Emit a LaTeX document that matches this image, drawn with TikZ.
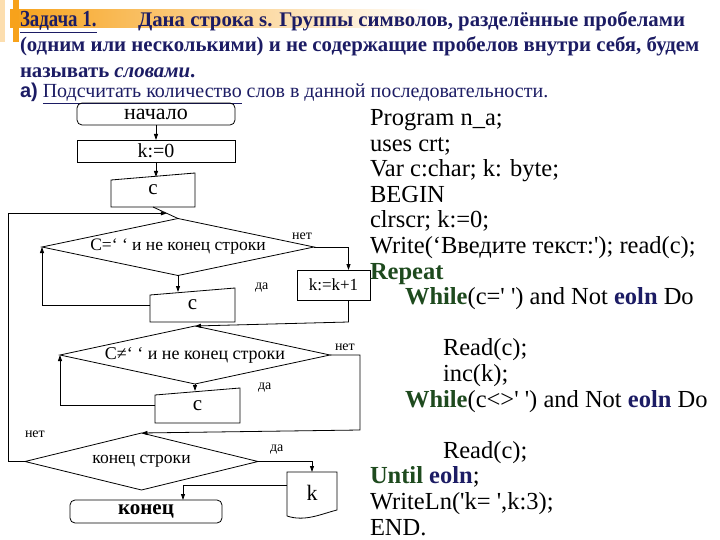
\documentclass[tikz,border=0pt]{standalone}
\usepackage{fontspec}
\setmainfont{Liberation Serif}
\newfontfamily\headsans{Liberation Sans}
\usetikzlibrary{
  arrows.meta,
  positioning,
  shapes.geometric,
  calc
}
\definecolor{fcnavy}{HTML}{1C1C64}
\definecolor{fcgreen}{HTML}{1E4A1E}
\definecolor{fcorange}{HTML}{F7A21B}
\newcommand\fsz[1]{\fontsize{#1}{#1}\selectfont}
\newcommand\kw[1]{\textbf{\color{fcgreen}#1}}
\newcommand\kv[1]{\textbf{\color{fcnavy}#1}}

\begin{document}
\begin{tikzpicture}[
  x=1pt, y=-1pt,
  every node/.style={inner sep=0pt, outer sep=0pt},
  link/.style={line width=0.8pt},
  arr/.style={link, -{Triangle[length=6pt,width=4pt]}},
  term/.style={draw, link, rounded corners=5pt},
  procbox/.style={draw, link},
  inbox/.style={minimum width=85pt, minimum height=34pt, font=\fsz{21}},
  cond/.style={diamond, draw, link, aspect=4.5, font=\fsz{17.5}},
  lbl/.style={font=\fsz{14}},
  head/.style={anchor=base west, text=fcnavy, font=\fsz{20.8}\bfseries}
]
  \useasboundingbox (0,0) rectangle (720,540);
  \fill[white] (0,0) rectangle (720,540);

  % Title strip
  \shade[left color=fcorange, right color=white] (10,10) rectangle (430,28);
  \fill[fcorange] (13,0) rectangle (19,42);
  \fill[fcorange!35] (0,0) rectangle (5,42);

  % Task text
  \node[head, font=\fsz{23}\bfseries] (task) at (20,27) {\scalebox{0.82}[1]{\underline{Задача 1.}}};
  \node[head] (line1) at (138,27) {Дана строка s. Группы символов, разделённые пробелами};
  \node[head] (line2) at (20,52) {(одним или несколькими) и не содержащие пробелов внутри себя, будем};
  \node[head] (line3) at (20,78) {называть \textit{словами}.};
  \node[head, font=\fsz{20}] (line4) at (20,98)
    {{\headsans\bfseries а)} \underline{Подсчитать количество} слов в данной последовательности.};

  % Flowchart
  \node[term, minimum width=158pt, minimum height=22pt, font=\fsz{22}] (start) at (156,114) {начало};
  \node[procbox, minimum width=158pt, minimum height=22pt, font=\fsz{20}] (k0) at (156,151) {k:=0};
  \node[inbox, minimum width=84pt] (cin1) at (153,190) {c};
  \node[cond, minimum width=272pt, minimum height=57pt] (d1) at (178,247) {C=‘ ‘ и не конец строки};
  \node[procbox, minimum width=73pt, minimum height=30pt, font=\fsz{17}] (kk) at (333.5,285) {k:=k+1};
  \node[inbox] (cin2) at (192.5,305) {c};
  \node[cond, minimum width=270pt, minimum height=58pt, font=\fsz{18}] (d2) at (195,355) {C≠‘ ‘ и не конец строки};
  \node[inbox, minimum height=35pt] (cin3) at (197.5,405.5) {c};
  \node[cond, minimum width=233pt, minimum height=57pt] (d3) at (141.5,461.5) {конец строки};
  \node[minimum width=50pt, minimum height=42pt, font=\fsz{22}] (kout) at (312,493) {k};
  \node[term, minimum width=152pt, minimum height=23pt, font=\fsz{21}\bfseries] (stop) at (146,511.5) {конец};

  % Input boxes with slanted top
  \foreach \b in {cin1,cin2,cin3}
    \draw[link] (\b.south west) -- (\b.south east) -- (\b.north east)
      -- ([yshift=-7pt]\b.north west) -- cycle;
  % Output document
  \draw[link] ($(kout.south west)+(0,2)$) -- (kout.north west) -- (kout.north east)
    -- ($(kout.south east)+(0,-4)$)
    .. controls +(-16,4) and +(18,6) .. ($(kout.south west)+(0,2)$);

  % Branch labels
  \node[lbl, above left=7pt and 2pt of d1.east] (no1) {нет};
  \node[lbl, right=20pt of cin2.north east] (yes1) {да};
  \node[lbl, above right=4pt and 5pt of d2.east] (no2) {нет};
  \node[lbl, right=18pt of cin3.north east] (yes2) {да};
  \node[lbl, above right=24pt and 0pt of d3.west] (no3) {нет};
  \node[lbl, above right=7pt and 12pt of d3.east] (yes3) {да};

  % Connectors
  \coordinate (j1) at ($(cin1.south)!0.55!(d1.north)$);
  \draw[arr] (start) -- (k0);
  \draw[arr] (k0.south) -- ($(k0.south |- cin1.north)+(0,4)$);
  \draw[link] (cin1.south) -- (d1.north);
  \draw[arr] (d1.east) -| ($(kk.north)+(15,0)$);
  \draw[arr] (d1.south) -- ($(d1.south |- cin2.north)+(0,4)$);
  \draw[arr] (cin2.west) -| (d1.west);
  \draw[arr] ($(kk.south)+(15,0)$) -- ++(0,22) -- (d2.north);
  \draw[arr] (d2.south) -- ($(d2.south |- cin3.north)+(0,3)$);
  \draw[arr] (cin3.west) -| (d2.west);
  \draw[arr] (d2.east) -- ++(30,0) -- ++(0,75) -- (d3.north);
  \draw[arr] (d3.east) -| (kout.north);
  \draw[arr] ($(kout.west)+(0,-8)$) -| ($(stop.north)+(37,0)$);
  \draw[arr] (d3.west) -- ++(-17,0) |- (j1);

  % Program text
  \node[anchor=north west, align=left, font=\fontsize{24.5}{25.6}\selectfont] (code) at (370,109.5) {%
    Program n\_a;\\
    uses crt;\\
    Var c:char; k: byte;\\
    BEGIN\\
    clrscr; k:=0;\\
    Write(‘Введите текст:\textquotesingle); read(c);\\
    \kw{Repeat}\\
    \hspace*{35pt}\kw{While}(c=\textquotesingle{} \textquotesingle) and Not \kv{eoln} Do\\[25.6pt]
    \hspace*{73pt}Read(c);\\
    \hspace*{73pt}inc(k);\\
    \hspace*{35pt}\kw{While}(c<>\textquotesingle{} \textquotesingle) and Not \kv{eoln} Do\\[25.6pt]
    \hspace*{73pt}Read(c);\\
    \kw{Until} \kv{eoln};\\
    WriteLn(\textquotesingle k= \textquotesingle,k:3);\\
    END.};
\end{tikzpicture}
\end{document}
